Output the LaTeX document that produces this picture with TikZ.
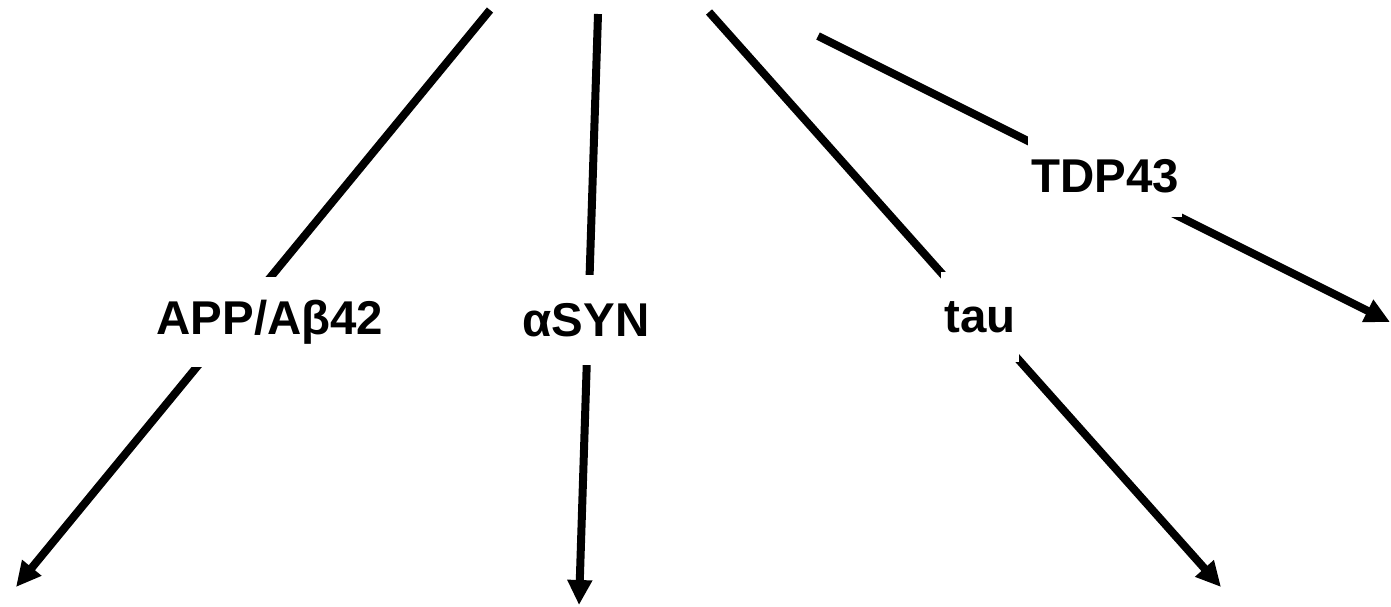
\documentclass[tikz,border=0pt]{standalone}
\usepackage{fontspec}
\setmainfont{Liberation Sans}
\usetikzlibrary{arrows.meta}

\begin{document}
\begin{tikzpicture}[
    x=0.02cm, y=-0.02cm,
    arr/.style={-{Triangle[length=0.5cm, width=0.47cm]}, line width=0.16cm},
    lbl/.style={fill=white, font=\fontsize{27}{32}\selectfont\bfseries, inner xsep=2pt, minimum height=1.8cm}
]
\useasboundingbox (0,0) rectangle (1391,606);
% free ends of the four arrows
\coordinate (appTop) at (490,10);
\coordinate (appEnd) at (16,587);
\coordinate (asynTop) at (598,14);
\coordinate (asynEnd) at (579,605);
\coordinate (tauTop) at (709,12);
\coordinate (tauEnd) at (1221,587);
\coordinate (tdpTop) at (818,36);
\coordinate (tdpEnd) at (1390,322);
\draw[arr] (appTop) -- (appEnd);
\draw[arr] (asynTop) -- (asynEnd);
\draw[arr] (tauTop) -- (tauEnd);
\draw[arr] (tdpTop) -- (tdpEnd);
% labels sit on top of the lines
\node (app) [lbl] at (270,322) {APP/Aβ42};
\node (asyn) [lbl] at (586,320) {αSYN};
\node (tau) [lbl] at (980,317) {tau};
\node (tdp) [lbl, minimum height=1.65cm] at (1105,176) {TDP43};
\end{tikzpicture}
\end{document}
